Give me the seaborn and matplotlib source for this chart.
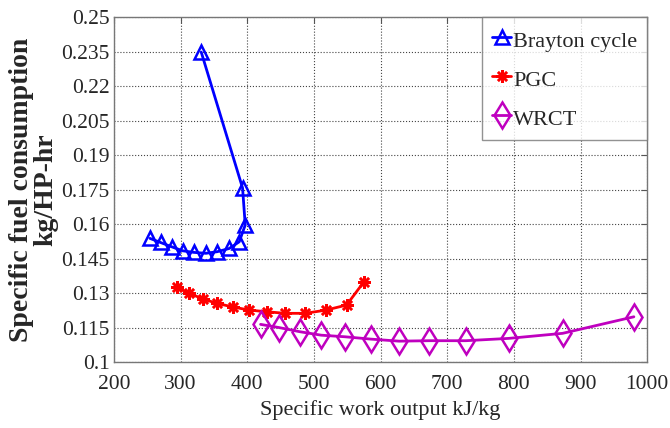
import pandas as pd
import matplotlib
matplotlib.use("Agg")
import matplotlib.pyplot as plt
import seaborn as sns

# data
brayton_work = [254, 270, 287, 303, 320, 338, 355, 373, 388, 397, 393, 331]
brayton_sfc = [0.1538, 0.1520, 0.1501, 0.1484, 0.1477, 0.1473, 0.1480, 0.1494, 0.1523, 0.1596, 0.1757, 0.2348]

pgc_work = [295, 313, 334, 355, 378, 403, 429, 457, 487, 518, 549, 575]
pgc_sfc = [0.1325, 0.1299, 0.1274, 0.1255, 0.1240, 0.1226, 0.1219, 0.1212, 0.1212, 0.1226, 0.1248, 0.1349]

wrct_work = [420, 448, 479, 511, 547, 585, 628, 673, 728, 792, 873, 980]
wrct_sfc = [0.1164, 0.1150, 0.1132, 0.1117, 0.1110, 0.1100, 0.1091, 0.1093, 0.1093, 0.1103, 0.1125, 0.1197]

x_ticks = [200, 300, 400, 500, 600, 700, 800, 900, 1000]
y_ticks = [0.1, 0.115, 0.13, 0.145, 0.16, 0.175, 0.19, 0.205, 0.22, 0.235, 0.25]
y_tick_labels = ['0.1', '0.115', '0.13', '0.145', '0.16', '0.175', '0.19', '0.205', '0.22', '0.235', '0.25']

sns.set_style('white')
plt.rcParams['font.family'] = ['Liberation Serif', 'DejaVu Serif']

fig = plt.figure(figsize=(6.7, 4.28), dpi=100)
ax = fig.add_axes([0.170, 0.154, 0.796, 0.806])

series = [
    ('Brayton cycle', brayton_work, brayton_sfc, '#0000ff', '^', 9.5),
    ('PGC', pgc_work, pgc_sfc, '#ff0000', (8, 2, 0), 9),
    ('WRCT', wrct_work, wrct_sfc, '#bf00bf', 'd', 13),
]

for name, xs, ys, col, mk, ms in series:
    df = pd.DataFrame({'work': xs, 'sfc': ys})
    sns.lineplot(data=df, x='work', y='sfc', sort=False, ax=ax, color=col, linewidth=2,
                 marker=mk, markersize=ms, markerfacecolor='none', markeredgecolor=col,
                 markeredgewidth=1.8, label=name)

ax.set_xlim(200, 1000)
ax.set_ylim(0.1, 0.25)
ax.set_xticks(x_ticks)
ax.set_yticks(y_ticks)
ax.set_yticklabels(y_tick_labels)
ax.tick_params(direction='in', labelsize=15.5, length=4, color='#555555',
               top=True, right=True)
ax.tick_params(axis='y', pad=3)
ax.tick_params(axis='x', pad=9)
ax.grid(True, linestyle=':', color='#444444', linewidth=0.8)
for s in ax.spines.values():
    s.set_color('#777777')
    s.set_linewidth(1.0)

ax.set_xlabel('Specific work output kJ/kg', fontsize=16, labelpad=5)
ax.set_ylabel('Specific fuel consumption\nkg/HP-hr', fontsize=20, fontweight='bold',
              linespacing=0.95, labelpad=2)

leg = ax.legend(loc='upper right', fontsize=16, frameon=True, fancybox=False,
                handlelength=0.85, handleheight=1.3, handletextpad=0.08, borderpad=0.45,
                labelspacing=0.65, borderaxespad=0)
leg.get_frame().set_edgecolor('#777777')
leg.get_frame().set_linewidth(1.0)

plt.savefig('out.png', dpi=100)
